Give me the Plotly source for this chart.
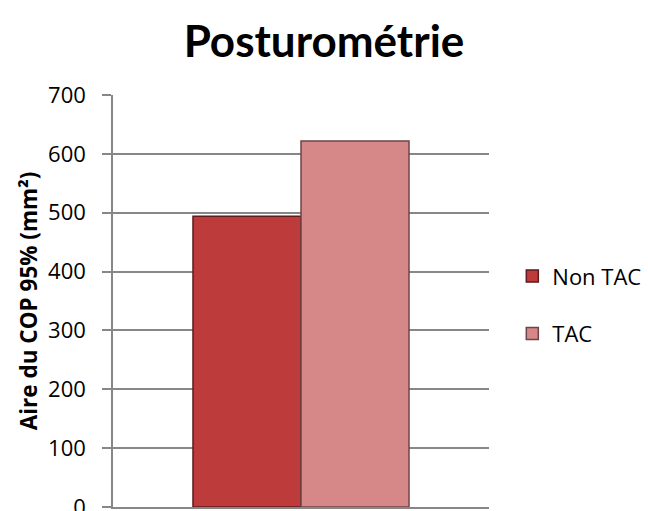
import plotly.graph_objects as go

# Posturometry: 95% COP area by group
groups = ["Non TAC", "TAC"]
cop_area = [494, 622]
bar_colors = ["#BD3B3B", "#D68888"]
edge_colors = ["#5E1A1C", "#6E4446"]
y_ticks = [0, 100, 200, 300, 400, 500, 600, 700]

fig = go.Figure()
for name, val, col, edge in zip(groups, cop_area, bar_colors, edge_colors):
    fig.add_trace(go.Bar(
        name=name, x=[""], y=[val], legendgroup=name,
        marker=dict(color=col, line=dict(color=edge, width=1.5)),
    ))

body_font = "'Open Sans', sans-serif"
axis_grey = "#878787"
fig.update_layout(
    width=648, height=511,
    margin=dict(l=113, r=159, t=95, b=4, autoexpand=False),
    paper_bgcolor="white", plot_bgcolor="white",
    barmode="group", bargap=0.4255, bargroupgap=0,
    title=dict(text="<b>Posturométrie</b>", x=0.5, xanchor="center",
               y=0.918, yanchor="middle",
               font=dict(family="Lato, sans-serif", size=44, color="black")),
    font=dict(family=body_font, color="black"),
    showlegend=True,
    legend=dict(x=1.062, y=0.49, xanchor="left", yanchor="middle",
                font=dict(size=22, color="black"), tracegroupgap=26,
                itemwidth=30),
    xaxis=dict(showticklabels=False, showgrid=False, zeroline=False,
               showline=True, linecolor=axis_grey, linewidth=1.5,
               automargin=False),
    yaxis=dict(range=[0, 700], tickvals=y_ticks, automargin=False,
               showgrid=True, gridcolor=axis_grey, gridwidth=1.5,
               zeroline=False, showline=True, linecolor=axis_grey,
               linewidth=1.5,
               ticks="outside", ticklen=9, tickcolor=axis_grey, tickwidth=1.5,
               ticklabelstandoff=12, ticklabeloverflow="allow",
               tickfont=dict(size=22, color="black"),
               title=dict(text="<b>Aire du COP 95% (mm²)</b>",
                          font=dict(size=22.5, color="black"), standoff=4)),
)

fig.write_html("out.html")
